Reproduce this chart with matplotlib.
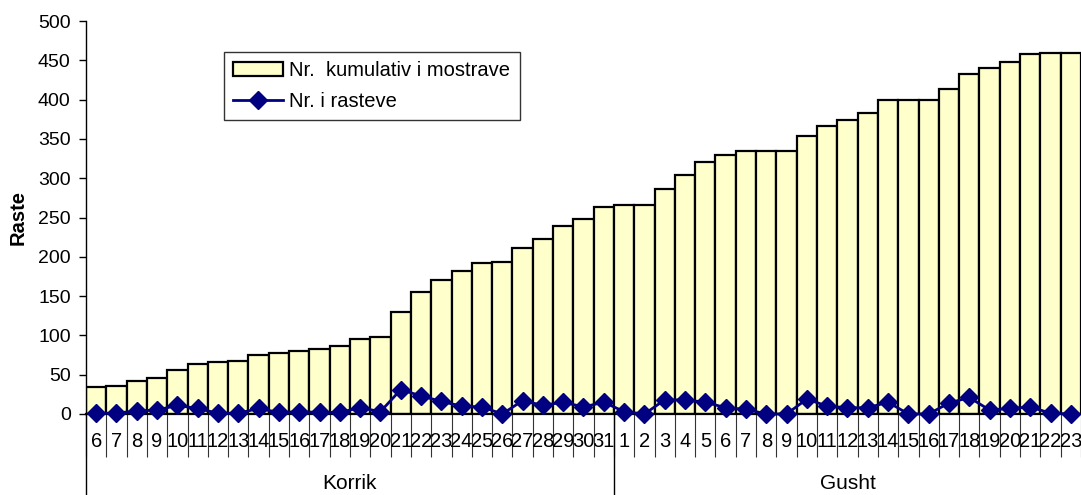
import matplotlib
matplotlib.use("Agg")
import matplotlib.pyplot as plt
import matplotlib.transforms as mtransforms
import numpy as np

plt.rcParams['font.family'] = ['Liberation Sans', 'DejaVu Sans']

# dites e marrjes se mostrave
days_korrik = [6, 7, 8, 9, 10, 11, 12, 13, 14, 15, 16, 17, 18, 19, 20,
               21, 22, 23, 24, 25, 26, 27, 28, 29, 30, 31]
days_gusht = [1, 2, 3, 4, 5, 6, 7, 8, 9, 10, 11, 12, 13, 14, 15, 16,
              17, 18, 19, 20, 21, 22, 23]
months = ["Korrik", "Gusht"]

cumulative = [34, 36, 42, 46, 56, 63, 66, 67, 75, 77, 80, 83, 86, 95, 98,
              130, 155, 170, 182, 192, 193, 211, 223, 239, 248, 263,
              266, 266, 286, 304, 320, 329, 335, 335, 335, 354, 366, 374,
              383, 399, 399, 399, 413, 433, 440, 448, 458, 459, 459]
daily = [1, 1, 4, 5, 11, 7, 1, 1, 7, 2, 3, 2, 2, 8, 3,
         31, 23, 16, 10, 9, 0, 17, 11, 15, 9, 15,
         3, 0, 18, 18, 15, 8, 6, 0, 0, 19, 10, 8, 8, 15, 0, 0,
         14, 21, 5, 7, 9, 1, 0]

labels = [str(d) for d in days_korrik + days_gusht]
x = np.arange(len(labels))
nK = len(days_korrik)

fig = plt.figure(figsize=(10.81, 4.95), dpi=100)
ax = fig.add_axes([86 / 1081, 81 / 495, 995 / 1081, 393 / 495])

bars = ax.bar(x, cumulative, width=1.0, color="#FFFFCC", edgecolor="black",
              linewidth=1.6, zorder=2)
line, = ax.plot(x, daily, color="#000080", linewidth=2.0, marker="D",
                markersize=9.5, zorder=4, clip_on=False)

ax.set_ylim(0, 500)
ax.set_xlim(-0.5, 48.22)
ax.set_yticks(np.arange(0, 501, 50))
ax.tick_params(axis="y", labelsize=14, length=5, width=1, pad=6)
ax.set_ylabel("Raste", fontsize=14.5, fontweight="bold")
ax.yaxis.set_label_coords(-0.059, 0.5)

for s in ["top", "right"]:
    ax.spines[s].set_visible(False)
ax.spines["bottom"].set_linewidth(1.6)
ax.spines["left"].set_linewidth(1)

# boshti x me dy nivele (dite / muaj)
ax.set_xticks(np.arange(-0.5, len(labels), 1.0))
ax.set_xticklabels([])
ax.tick_params(axis="x", length=31, width=0.8, color="#333333", direction="out")

trans = mtransforms.blended_transform_factory(ax.transData, ax.transAxes)
for xi, lab in zip(x, labels):
    ax.text(xi, -0.069, lab, transform=trans, ha="center", va="center",
            fontsize=14.5, clip_on=False)

for xb in [-0.5, nK - 0.5]:
    ax.plot([xb, xb], [0, -0.21], transform=trans, color="black",
            linewidth=1, clip_on=False)

ax.text((nK - 1) / 2, -0.178, months[0], transform=trans, ha="center",
        va="center", fontsize=15)
ax.text(nK + (len(days_gusht) - 1) / 2, -0.178, months[1], transform=trans,
        ha="center", va="center", fontsize=15)

leg = ax.legend([bars, line], ["Nr.  kumulativ i mostrave", "Nr. i rasteve"],
                loc="upper left", bbox_to_anchor=(0.1387, 0.921),
                fontsize=14.5, frameon=True, fancybox=False, handlelength=2.5,
                borderaxespad=0, borderpad=0.45, labelspacing=0.6,
                handletextpad=0.3)
leg.get_frame().set_edgecolor("black")
leg.get_frame().set_linewidth(1)

fig.savefig("out.png", dpi=100)
